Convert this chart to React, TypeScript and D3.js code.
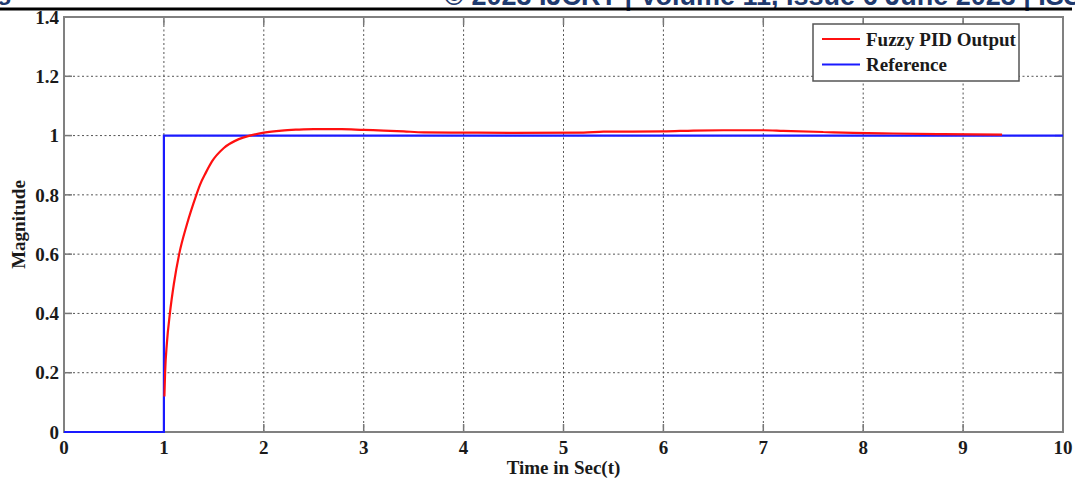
import React, { useRef, useEffect } from 'react';
import * as d3 from 'd3';

// Fuzzy PID step response
const fuzzyTime = [
  1.005, 1.012, 1.03, 1.06, 1.1, 1.153, 1.23, 1.325, 1.36, 1.42, 1.48, 1.6, 1.75, 1.86, 2.0,
  2.18, 2.33, 2.5, 2.78, 3.0, 3.2, 3.4, 3.6, 4.0, 4.5, 5.2, 5.4, 6.0, 6.3, 6.6, 7.0, 7.2,
  7.6, 7.9, 8.3, 8.8, 9.39,
];
const fuzzyOutput = [
  0.12, 0.2, 0.3, 0.4, 0.5, 0.6, 0.7, 0.8, 0.833, 0.875, 0.912, 0.958, 0.988, 1.0, 1.01,
  1.017, 1.02, 1.022, 1.022, 1.019, 1.017, 1.014, 1.011, 1.01, 1.009, 1.01, 1.013, 1.014,
  1.017, 1.018, 1.018, 1.016, 1.012, 1.009, 1.007, 1.005, 1.003,
];

// Step reference
const refTime = [0, 1, 1, 10];
const refOutput = [0, 0, 1, 1];

const xTickValues = [0, 1, 2, 3, 4, 5, 6, 7, 8, 9, 10];
const yTickValues = [0, 0.2, 0.4, 0.6, 0.8, 1, 1.2, 1.4];
const yTickLabels = ['0', '0.2', '0.4', '0.6', '0.8', '1', '1.2', '1.4'];

const legendLabels = ['Fuzzy PID Output', 'Reference'];
const seriesColors = ['#ff1010', '#1a1aff'];

export default function App() {
  const svgRef = useRef<SVGSVGElement>(null);

  useEffect(() => {
    if (!svgRef.current) return;
    const svg = d3.select(svgRef.current);
    svg.selectAll('*').remove();

    const width = 1075;
    const height = 481;
    const serif = '"Liberation Serif", "Times New Roman", serif';
    const sans = '"Liberation Sans", Arial, sans-serif';

    svg.append('rect').attr('width', width).attr('height', height).attr('fill', '#fff');

    // page header remnants (cropped at the top edge, as in the scan)
    svg.append('text')
      .attr('x', 12).attr('y', 0)
      .attr('text-anchor', 'end')
      .attr('font-family', sans)
      .attr('font-weight', 'bold')
      .attr('font-size', 24)
      .attr('fill', '#1f3a6e')
      .text('www.ijcrt.org');
    svg.append('text')
      .attr('x', 444).attr('y', 5)
      .attr('font-family', sans)
      .attr('font-weight', 'bold')
      .attr('font-size', 27)
      .attr('fill', '#1f3a6e')
      .text('© 2023 IJCRT | Volume 11, Issue 6 June 2023 | ISSN: 2320-2882');
    svg.append('rect')
      .attr('x', 0).attr('y', 7.5).attr('width', 1072).attr('height', 3)
      .attr('fill', '#000');

    const x = d3.scaleLinear().domain([0, 10]).range([64, 1063]);
    const y = d3.scaleLinear().domain([0, 1.4]).range([432, 17]);
    const [x0, x1] = x.range();
    const [y0, y1] = y.range();

    const g = svg.append('g');

    // grid
    g.selectAll('.vgrid')
      .data(xTickValues.slice(1, -1))
      .enter()
      .append('line')
      .attr('x1', d => x(d)).attr('x2', d => x(d))
      .attr('y1', y0).attr('y2', y1)
      .attr('stroke', '#555')
      .attr('stroke-width', 1)
      .attr('stroke-dasharray', '2,2.5');
    g.selectAll('.hgrid')
      .data(yTickValues.slice(1, -1))
      .enter()
      .append('line')
      .attr('x1', x0).attr('x2', x1)
      .attr('y1', d => y(d)).attr('y2', d => y(d))
      .attr('stroke', '#555')
      .attr('stroke-width', 1)
      .attr('stroke-dasharray', '2,2.5');

    // inward ticks on all four sides
    const tickLen = 8;
    xTickValues.forEach(v => {
      g.append('line').attr('x1', x(v)).attr('x2', x(v)).attr('y1', y0).attr('y2', y0 - tickLen)
        .attr('stroke', '#777').attr('stroke-width', 1.5);
      g.append('line').attr('x1', x(v)).attr('x2', x(v)).attr('y1', y1).attr('y2', y1 + tickLen)
        .attr('stroke', '#777').attr('stroke-width', 1.5);
    });
    yTickValues.forEach(v => {
      g.append('line').attr('x1', x0).attr('x2', x0 + tickLen).attr('y1', y(v)).attr('y2', y(v))
        .attr('stroke', '#777').attr('stroke-width', 1.5);
      g.append('line').attr('x1', x1).attr('x2', x1 - tickLen).attr('y1', y(v)).attr('y2', y(v))
        .attr('stroke', '#777').attr('stroke-width', 1.5);
    });

    // axes box
    g.append('rect')
      .attr('x', x0).attr('y', y1)
      .attr('width', x1 - x0).attr('height', y0 - y1)
      .attr('fill', 'none')
      .attr('stroke', '#808080')
      .attr('stroke-width', 2);

    // series
    const refLine = d3.line<number>()
      .x((d, i) => x(refTime[i]))
      .y(d => y(d));
    g.append('path')
      .attr('d', refLine(refOutput))
      .attr('fill', 'none')
      .attr('stroke', seriesColors[1])
      .attr('stroke-width', 2.2);

    const fuzzyLine = d3.line<number>()
      .x((d, i) => x(fuzzyTime[i]))
      .y(d => y(d))
      .curve(d3.curveMonotoneX);
    g.append('path')
      .attr('d', fuzzyLine(fuzzyOutput))
      .attr('fill', 'none')
      .attr('stroke', seriesColors[0])
      .attr('stroke-width', 2.2);

    // tick labels
    g.selectAll('.xlab')
      .data(xTickValues)
      .enter()
      .append('text')
      .attr('x', d => x(d))
      .attr('y', 454)
      .attr('text-anchor', 'middle')
      .attr('font-family', serif)
      .attr('font-weight', 'bold')
      .attr('font-size', 19)
      .attr('fill', '#1a1a1a')
      .text(d => String(d));
    g.selectAll('.ylab')
      .data(yTickValues)
      .enter()
      .append('text')
      .attr('x', 59)
      .attr('y', d => y(d))
      .attr('dy', '0.35em')
      .attr('text-anchor', 'end')
      .attr('font-family', serif)
      .attr('font-weight', 'bold')
      .attr('font-size', 19)
      .attr('fill', '#1a1a1a')
      .text((d, i) => yTickLabels[i]);

    // axis titles
    g.append('text')
      .attr('x', (x0 + x1) / 2)
      .attr('y', 474)
      .attr('text-anchor', 'middle')
      .attr('font-family', serif)
      .attr('font-weight', 'bold')
      .attr('font-size', 19)
      .attr('fill', '#1a1a1a')
      .text('Time in Sec(t)');
    g.append('text')
      .attr('transform', `translate(25,${(y0 + y1) / 2}) rotate(-90)`)
      .attr('text-anchor', 'middle')
      .attr('font-family', serif)
      .attr('font-weight', 'bold')
      .attr('font-size', 19)
      .attr('fill', '#1a1a1a')
      .text('Magnitude');

    // legend
    const legend = g.append('g').attr('transform', 'translate(813,24)');
    legend.append('rect')
      .attr('width', 206).attr('height', 57)
      .attr('fill', '#fff')
      .attr('stroke', '#555')
      .attr('stroke-width', 1.5);
    legendLabels.forEach((label, i) => {
      const ly = 15 + i * 25.5;
      legend.append('line')
        .attr('x1', 9).attr('x2', 47)
        .attr('y1', ly).attr('y2', ly)
        .attr('stroke', seriesColors[i])
        .attr('stroke-width', 2.2);
      legend.append('text')
        .attr('x', 53).attr('y', ly)
        .attr('dy', '0.35em')
        .attr('font-family', serif)
        .attr('font-weight', 'bold')
        .attr('font-size', 19)
        .attr('fill', '#1a1a1a')
        .text(label);
    });
  }, []);

  return (
    <svg
      ref={svgRef}
      width={1075}
      height={481}
      viewBox="0 0 1075 481"
      style={{ position: 'absolute', left: 0, top: 0, display: 'block' }}
    />
  );
}
